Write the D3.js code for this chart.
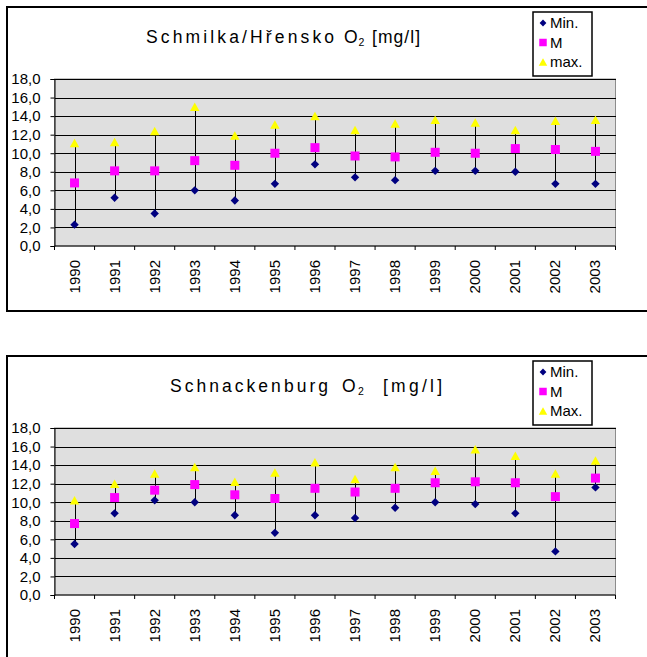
<!DOCTYPE html>
<html lang="cs">
<head>
<meta charset="utf-8" />
<title>O2 Schmilka / Schnackenburg</title>
<style>
  body { margin: 0; background: #fff; }
  svg { display: block; font-family: Arial, "Liberation Sans", sans-serif; }
  .grid line { stroke: #000; stroke-width: 1px; shape-rendering: crispEdges; }
  .hl { stroke: #000; stroke-width: 1px; shape-rendering: crispEdges; }
</style>
</head>
<body>
<script src="https://cdn.jsdelivr.net/npm/d3@7"></script>
<script>
const years = ["1990","1991","1992","1993","1994","1995","1996","1997","1998","1999","2000","2001","2002","2003"];
const yTickValues = [0, 2, 4, 6, 8, 10, 12, 14, 16, 18];

// Schmilka/Hřensko
const schmilkaMin  = [2.3, 5.2, 3.5, 6.0, 4.9, 6.7, 8.8, 7.4, 7.1, 8.1, 8.1, 8.0, 6.7, 6.7];
const schmilkaMean = [6.8, 8.1, 8.1, 9.2, 8.7, 10.0, 10.6, 9.7, 9.6, 10.1, 10.0, 10.5, 10.4, 10.2];
const schmilkaMax  = [11.1, 11.2, 12.4, 15.0, 11.9, 13.1, 14.0, 12.5, 13.2, 13.6, 13.3, 12.5, 13.5, 13.6];

// Schnackenburg
const schnackMin  = [5.5, 8.8, 10.2, 10.0, 8.6, 6.7, 8.6, 8.3, 9.4, 10.0, 9.8, 8.8, 4.7, 11.6];
const schnackMean = [7.7, 10.5, 11.3, 11.9, 10.8, 10.4, 11.5, 11.1, 11.5, 12.1, 12.2, 12.1, 10.6, 12.6];
const schnackMax  = [10.2, 12.0, 13.1, 13.8, 12.2, 13.2, 14.3, 12.5, 13.8, 13.4, 15.7, 15.0, 13.1, 14.5];

const width = 647, height = 657;

const svg = d3.select("body").append("svg")
  .attr("width", width)
  .attr("height", height);

const fmt = v => d3.format(".1f")(v).replace(".", ",");

// marker shapes (Excel-ish)
const diamond = r => `M0,${-r}L${r},0L0,${r}L${-r},0Z`;
const square = s => `M${-s/2},${-s/2}h${s}v${s}h${-s}Z`;
const triangle = (w, h) => `M0,${-h/2}L${w/2},${h/2}L${-w/2},${h/2}Z`;

function drawChart(offsetY, titleParts, legendNames, mins, means, maxs) {
  const g = svg.append("g").attr("transform", `translate(0,${offsetY})`);

  // outer frame
  g.append("rect")
    .attr("x", 7).attr("y", 7)
    .attr("width", 660).attr("height", 304)
    .attr("fill", "#fff")
    .attr("stroke", "#000")
    .attr("stroke-width", 2);

  const x = d3.scaleBand().domain(years).range([54.5, 615.5]).padding(0);
  const y = d3.scaleLinear().domain([0, 18]).range([246, 79]);

  // plot area
  g.append("rect")
    .attr("x", x.range()[0]).attr("y", y(18))
    .attr("width", x.range()[1] - x.range()[0])
    .attr("height", y(0) - y(18))
    .attr("fill", "#dfdfdf")
    .attr("stroke", "#8c8c8c")
    .attr("stroke-width", 1);

  g.append("g").attr("class", "grid")
    .selectAll("line")
    .data(yTickValues.filter(v => v > 0))
    .join("line")
    .attr("x1", x.range()[0]).attr("x2", x.range()[1])
    .attr("y1", d => Math.round(y(d)) + 0.5).attr("y2", d => Math.round(y(d)) + 0.5);

  // y axis
  const yAxis = d3.axisLeft(y).tickValues(yTickValues).tickFormat(fmt).tickSize(4).tickPadding(10);
  const ya = g.append("g")
    .attr("transform", `translate(${x.range()[0]},0)`)
    .call(yAxis);
  ya.select(".domain").attr("stroke", "#000");
  ya.selectAll("text").attr("font-size", 15).attr("font-family", "Arial, 'Liberation Sans', sans-serif").attr("fill", "#000");

  // x axis: ticks at category boundaries
  const xa = g.append("g");
  xa.append("line")
    .attr("x1", x.range()[0]).attr("x2", x.range()[1])
    .attr("y1", y(0)).attr("y2", y(0))
    .attr("stroke", "#000");
  xa.selectAll("line.tk")
    .data(years.concat(["end"]))
    .join("line")
    .attr("class", "tk")
    .attr("x1", (d, i) => x.range()[0] + i * x.bandwidth())
    .attr("x2", (d, i) => x.range()[0] + i * x.bandwidth())
    .attr("y1", y(0)).attr("y2", y(0) + 4)
    .attr("stroke", "#000");
  xa.selectAll("text")
    .data(years)
    .join("text")
    .attr("transform", d => `translate(${x(d) + x.bandwidth() / 2 + 5},${y(0) + 14}) rotate(-90)`)
    .attr("text-anchor", "end")
    .attr("font-size", 15)
    .text(d => d);

  // high-low lines
  g.append("g").selectAll("line")
    .data(years)
    .join("line")
    .attr("class", "hl")
    .attr("x1", d => Math.round(x(d) + x.bandwidth() / 2) + 0.5)
    .attr("x2", d => Math.round(x(d) + x.bandwidth() / 2) + 0.5)
    .attr("y1", (d, i) => y(mins[i]))
    .attr("y2", (d, i) => y(maxs[i]));

  const cx = d => x(d) + x.bandwidth() / 2;

  g.append("g").selectAll("path")
    .data(years)
    .join("path")
    .attr("d", diamond(4.2))
    .attr("fill", "#000080")
    .attr("transform", (d, i) => `translate(${cx(d)},${y(mins[i])})`);

  g.append("g").selectAll("path")
    .data(years)
    .join("path")
    .attr("d", triangle(9.5, 8.5))
    .attr("fill", "#ffff00")
    .attr("transform", (d, i) => `translate(${cx(d)},${y(maxs[i])})`);

  g.append("g").selectAll("path")
    .data(years)
    .join("path")
    .attr("d", square(9))
    .attr("fill", "#ff00ff")
    .attr("transform", (d, i) => `translate(${cx(d)},${y(means[i])})`);

  // title, each part placed with its own width (letter-spaced like the original)
  g.append("g").selectAll("text")
    .data(titleParts)
    .join("text")
    .attr("x", d => d.x)
    .attr("y", d => d.sub ? 46 : 43)
    .attr("font-size", d => d.sub ? 10.5 : 17.5)
    .attr("fill", "#000")
    .attr("textLength", d => d.len || null)
    .attr("lengthAdjust", "spacing")
    .text(d => d.text);

  // legend
  const lg = g.append("g").attr("transform", "translate(533,12)");
  lg.append("rect")
    .attr("width", 59).attr("height", 64)
    .attr("fill", "#fff")
    .attr("stroke", "#000")
    .attr("stroke-width", 1.5);
  const shapes = [
    { d: diamond(3.4), fill: "#000080" },
    { d: square(7.5), fill: "#ff00ff" },
    { d: triangle(8.5, 7.5), fill: "#ffff00" }
  ];
  const items = lg.selectAll("g.item")
    .data(legendNames)
    .join("g")
    .attr("class", "item")
    .attr("transform", (d, i) => `translate(0,${16 + i * 19.5})`);
  items.append("path")
    .attr("d", (d, i) => shapes[i].d)
    .attr("fill", (d, i) => shapes[i].fill)
    .attr("transform", "translate(10,-5)");
  items.append("text")
    .attr("x", 17)
    .attr("font-size", 15)
    .text(d => d);
}

drawChart(0,
  [
    { text: "Schmilka/Hřensko", x: 146, len: 188 },
    { text: "O", x: 344 },
    { text: "2", x: 358.5, sub: true },
    { text: "[mg/l]", x: 372, len: 48 }
  ],
  ["Min.", "M", "max."],
  schmilkaMin, schmilkaMean, schmilkaMax);

drawChart(349,
  [
    { text: "Schnackenburg", x: 170, len: 158 },
    { text: "O", x: 342 },
    { text: "2", x: 358, sub: true },
    { text: "[mg/l]", x: 383, len: 59 }
  ],
  ["Min.", "M", "Max."],
  schnackMin, schnackMean, schnackMax);
</script>
</body>
</html>
